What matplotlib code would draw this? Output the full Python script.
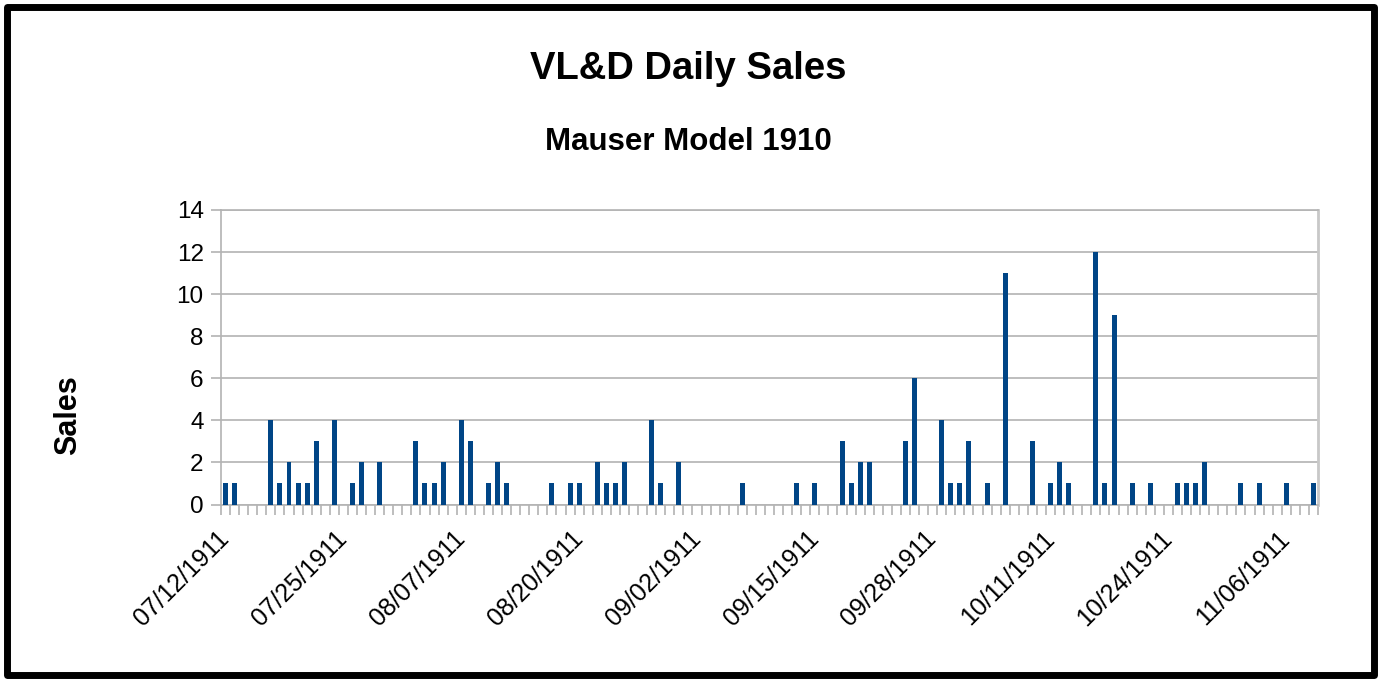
import matplotlib
matplotlib.use("Agg")
import matplotlib.pyplot as plt
import numpy as np
import pandas as pd
from matplotlib.patches import Rectangle
from matplotlib.ticker import FixedLocator

# ---- data ----
start_date = "1911-07-12"
sales = [
    1, 1, 0, 0, 0, 4, 1, 2, 1, 1, 3, 0, 4,
    0, 1, 2, 0, 2, 0, 0, 0, 3, 1, 1, 2, 0,
    4, 3, 0, 1, 2, 1, 0, 0, 0, 0, 1, 0, 1,
    1, 0, 2, 1, 1, 2, 0, 0, 4, 1, 0, 2, 0,
    0, 0, 0, 0, 0, 1, 0, 0, 0, 0, 0, 1, 0,
    1, 0, 0, 3, 1, 2, 2, 0, 0, 0, 3, 6, 0,
    0, 4, 1, 1, 3, 0, 1, 0, 11, 0, 0, 3, 0,
    1, 2, 1, 0, 0, 12, 1, 9, 0, 1, 0, 1, 0,
    0, 1, 1, 1, 2, 0, 0, 0, 1, 0, 1, 0, 0,
    1, 0, 0, 1,
]
dates = pd.date_range(start_date, periods=len(sales), freq="D")
label_step = 13
y_ticks = [0, 2, 4, 6, 8, 10, 12, 14]
title = "VL&D Daily Sales"
subtitle = "Mauser Model 1910"
y_label = "Sales"

# ---- figure ----
W, H = 1380, 682
fig = plt.figure(figsize=(W / 100, H / 100), dpi=100)
plt.rcParams["font.family"] = ["Liberation Sans", "DejaVu Sans"]

ax_l, ax_r, ax_t, ax_b = 221, 1318, 210, 504.5
ax = fig.add_axes([ax_l / W, 1 - ax_b / H, (ax_r - ax_l) / W, (ax_b - ax_t) / H])

grid_c = "#b3b3b3"
bar_c = "#004586"
x = np.arange(len(sales))
ax.bar(x, sales, width=0.55, color=bar_c, zorder=3)

ax.set_xlim(-0.5, len(sales) - 0.5)
ax.set_ylim(0, 14)
ax.set_yticks(y_ticks)
ax.yaxis.grid(True, color=grid_c, linewidth=1.2, zorder=0)
ax.set_axisbelow(True)

for s in ax.spines.values():
    s.set_color(grid_c)
    s.set_linewidth(1.2)
ax.spines["right"].set_linewidth(2.0)
ax.spines["right"].set_color("#c8c8c8")

# x ticks: minor at boundaries, labels at every 13th day
label_idx = list(range(0, len(sales), label_step))
ax.set_xticks(label_idx)
ax.set_xticklabels([dates[i].strftime("%m/%d/%Y") for i in label_idx],
                   rotation=45, ha="right", rotation_mode="anchor",
                   fontsize=18)
ax.xaxis.set_minor_locator(FixedLocator(np.arange(-0.5, len(sales), 1.0)))
ax.tick_params(axis="x", which="major", length=0, pad=22)
ax.tick_params(axis="x", which="minor", length=7.5, width=1.2, color=grid_c)
ax.tick_params(axis="y", length=7.5, width=1.2, color=grid_c, pad=5,
               labelsize=17.5)
for lab in ax.get_xticklabels():
    lab.set_va("center")

# titles
fig.text(688 / W, 1 - 79 / H, title, ha="center", va="baseline",
         fontsize=27.5, fontweight="bold")
fig.text(688 / W, 1 - 150 / H, subtitle, ha="center", va="baseline",
         fontsize=22.5, fontweight="bold")
fig.text(68 / W, 1 - 415 / H, y_label, ha="center", va="center",
         rotation=90, fontsize=22, fontweight="bold")

# outer black frame
frame = Rectangle((6.5 / W, 7 / H), (W - 13) / W, (H - 14) / H,
                  transform=fig.transFigure, fill=False, edgecolor="black",
                  linewidth=5.0, joinstyle="round")
fig.patches.append(frame)

fig.savefig("out.png", dpi=100)
